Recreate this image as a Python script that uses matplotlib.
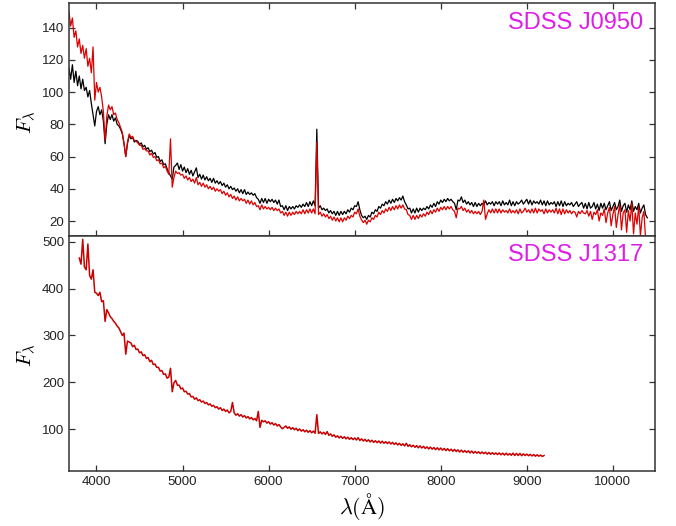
#!/usr/bin/env python3

import numpy as np
import matplotlib
matplotlib.use('Agg')
import matplotlib.pyplot as plt
from matplotlib.ticker import MultipleLocator

BLACK = '#000000'
RED = '#dd0000'
DARK_RED = '#c80000'
MAGENTA = '#dd1ee6'
AXIS = '#333333'

plt.rcParams['font.family'] = ['Liberation Sans', 'DejaVu Sans']
plt.rcParams['mathtext.fontset'] = 'cm'

# SDSS J0950: wavelength grid (Angstrom), 20 A steps from 3680 to 10400
wave_j0950 = np.arange(3680, 10401, 20)

# black spectrum
flux_j0950_black = [
    115, 108, 117, 106, 113, 104, 110, 102, 108, 101,
    103, 97, 101, 93, 86, 79, 88, 91, 86, 89,
    82, 68, 80, 86, 83, 86, 82, 84, 80, 79,
    77, 74, 68, 60, 68, 73, 71, 72, 69, 70,
    69.5, 67.5, 68.5, 66, 67, 64.5, 65.5, 63, 64, 61.5,
    62.5, 59.5, 60, 57, 58, 55, 55.5, 52.5, 50, 48,
    46, 53.5, 54.5, 56, 52, 55, 51, 53.5, 50, 52.5,
    49, 51.5, 48, 50.5, 53, 47, 49, 46, 48.5, 45.5,
    47.5, 45, 46.5, 44, 46.5, 43.5, 45, 43, 44.5, 42,
    43.5, 41, 42.5, 40, 41.5, 39.5, 40.5, 38.5, 40, 37.5,
    39.5, 37, 39.5, 36.5, 38, 36.5, 37.5, 36, 37, 34.5,
    33.5, 31, 34, 31.5, 34, 31, 33.5, 32, 33.5, 31.5,
    33, 30.5, 33, 29, 29.5, 27, 29.5, 26.5, 29, 27.5,
    29, 27.5, 29.5, 28.5, 30, 28.5, 30.5, 29, 31.5, 29,
    32, 29.5, 32.5, 29.5, 77, 28, 29.5, 27, 28, 26.5,
    27.5, 25, 26.5, 24.5, 26, 23.5, 26, 23.5, 26, 24,
    26, 24.5, 27, 25.5, 28, 27, 29.5, 29, 32, 27,
    23.5, 22, 23, 21, 23.5, 22.5, 25.5, 24.5, 27, 26,
    29, 28, 30.5, 29.5, 32, 30.5, 33, 31, 33.5, 31.5,
    34, 32.5, 34.5, 33, 35.5, 32, 30, 27.5, 28, 25,
    27.5, 25, 28, 25.5, 28, 26.5, 28, 27, 29, 27.5,
    30, 28.5, 31, 29, 32, 30.5, 33, 31.5, 33.5, 32,
    34, 32.5, 33.5, 32, 31, 27, 33, 32.5, 35, 31.5,
    33, 30.5, 32, 30, 31.5, 29, 31.5, 29, 31, 29.5,
    31, 30, 32.5, 30, 31.5, 30.5, 32, 29.5, 32, 30.5,
    32, 29.5, 32.5, 30, 31.5, 30, 33, 29.5, 32, 29.5,
    32, 30.5, 31.5, 33, 30.5, 32, 33.5, 30.5, 33, 30,
    32.5, 31, 32, 30.5, 33, 30, 32.5, 29.5, 32.5, 30,
    31.5, 30.5, 32, 29, 32, 29.5, 32.5, 29, 32, 29.5,
    31, 30, 31.5, 29, 30.5, 32, 29, 30.5, 31.5, 28,
    31, 27.5, 31.5, 28, 29, 31.5, 27.5, 30.5, 26.5, 31,
    28, 31, 27, 29.5, 32, 26.5, 29, 31.5, 27, 29,
    33, 26, 29.5, 31, 25.5, 30, 27, 32.5, 26, 29,
    27, 31, 25, 28, 30, 24, 22,
]

# red spectrum
flux_j0950_red = [
    150, 141, 146, 134, 138, 128, 133, 124, 129, 121,
    127, 116, 121, 112, 128, 95, 106, 100, 103, 97,
    88, 70, 85, 92, 89, 91, 86, 87, 83, 81,
    78, 75, 68, 60, 69, 74, 72, 72.5, 70, 69.5,
    68.5, 67, 67, 64.5, 65, 63.5, 63.5, 61, 62, 59.5,
    60, 57.5, 58, 55.5, 56, 53, 54, 51, 49, 71,
    41, 47, 51, 49.5, 50, 48.5, 49, 46.5, 48, 45.5,
    47, 44.5, 46, 43.5, 47, 42.5, 44, 41.5, 43.5, 41,
    42.5, 40, 41.5, 39.5, 41, 38.5, 40, 38.5, 39.5, 37,
    38.5, 36, 37.5, 35, 36.5, 34, 35.5, 33, 35, 32.5,
    34, 32.5, 33.5, 31, 33, 30.5, 32.5, 30, 31.5, 29,
    29.5, 27, 30, 27.5, 29, 27.5, 28.5, 27, 28.5, 26.5,
    28, 26.5, 27.5, 25, 26, 23.5, 25.5, 23, 25.5, 23.5,
    25.5, 24, 26, 24.5, 26, 24.5, 27, 24.5, 27, 25,
    27.5, 25, 27.5, 24.5, 69, 24, 25.5, 23, 24.5, 22.5,
    24, 21.5, 23, 20.5, 22.5, 20, 22, 19.5, 22, 19.5,
    22, 20.5, 23, 21.5, 23.5, 22.5, 25.5, 24.5, 27.5, 23,
    20.7, 19, 20.5, 18, 20.5, 19.5, 22, 21, 23.5, 22.5,
    25.5, 24, 26.5, 25, 27.5, 26, 28.5, 26.5, 29, 27,
    29.5, 27.5, 30, 28, 30, 27.5, 27, 24, 23.5, 21,
    23.5, 21, 23.5, 21.5, 24, 22.5, 24.5, 23, 25.5, 24,
    26.5, 24.5, 27, 25.5, 28, 26, 28.5, 27, 29, 27,
    29, 27.5, 29, 27, 26, 22, 28, 27.5, 29, 26.5,
    28, 25.5, 27, 25, 26.5, 24.5, 26, 24.5, 26, 24,
    26, 33, 21, 24.5, 27, 25, 27.5, 25, 27.5, 25,
    27.5, 25, 27, 25.5, 26.5, 25, 27.5, 25, 26.5, 25,
    27, 24.5, 27.5, 25, 26, 28, 25.5, 27, 25, 27.5,
    25, 28, 25, 27.5, 26, 27, 24.5, 27.5, 25, 27,
    25.5, 27, 25, 28, 24.5, 27.5, 24, 27.5, 24.5, 27,
    25, 26.5, 24.5, 26, 25.5, 22.5, 26, 24.5, 26.5, 25,
    24.5, 26.5, 23, 26, 21, 25.5, 24, 27, 20, 25,
    23.5, 27.5, 19, 25, 28.5, 17, 24, 29, 16, 24,
    30, 14.5, 25, 27, 13, 26.5, 20, 31, 12, 25,
    18, 29, 11, 22, 26, 9, 5,
]

# SDSS J1317: 20 A steps from 3800 to 9200
wave_j1317 = np.arange(3800, 9201, 20)
flux_j1317 = [
    465, 452, 505, 446, 440, 495, 428, 420, 440, 392,
    390, 385, 392, 372, 374, 330, 355, 348, 340, 336,
    330, 326, 320, 316, 308, 300, 305, 260, 288, 286,
    284, 276, 279, 270, 271, 263, 265, 257, 259, 251,
    253, 244, 247, 238, 239, 232, 232, 224, 225, 217,
    218, 209, 211, 230, 180, 199, 204, 194, 194, 186,
    188, 180, 181, 175, 176, 169, 170, 164, 167, 161,
    163, 158, 160, 155, 157, 152, 154, 149, 151, 146,
    148, 143, 146, 140, 143, 138, 141, 135, 138, 157,
    135, 130, 133, 128, 131, 126, 129, 124, 127, 122,
    125, 120, 123, 118, 138, 104, 119, 116, 118, 113,
    116, 111, 114, 109, 112, 107, 110, 105, 101, 104,
    107, 102, 105, 100, 103.5, 99, 102, 97, 100.5, 96,
    99, 94.5, 98, 93.5, 97, 92.5, 96, 91.5, 131, 91,
    94.5, 90, 93.5, 89, 95, 87, 90, 85, 88, 83,
    86, 81.5, 85, 80.5, 84, 79.5, 83, 78.5, 82, 78,
    81.5, 77, 82, 76, 79.5, 75, 78.5, 74, 77.5, 73,
    76.5, 72, 75.5, 71.5, 75, 70.5, 74.5, 70, 73.5, 69.5,
    73, 68.5, 72, 67.5, 71, 66.5, 70, 65.5, 69, 64.5,
    70, 63.5, 67, 62.5, 66, 61.5, 65, 60.5, 64.5, 60,
    63.5, 59, 62.5, 58, 62, 57.5, 61, 56.5, 60.5, 56,
    60, 55.5, 59, 54.5, 58.5, 54, 57.5, 53, 57, 52.5,
    56, 51.5, 55.5, 51, 54.5, 50.5, 54, 49.5, 53.5, 49,
    52.5, 49, 52, 48, 51.5, 48, 51, 47, 50.5, 46.5,
    50, 46.5, 49.5, 46, 49.5, 45.5, 49, 45, 49, 45,
    48, 44.5, 49, 44, 48.5, 44, 48.5, 43.5, 47.5, 44,
    47, 43.5, 46.5, 43, 46, 42.5, 45.5, 42.5, 45, 42,
    44,
]

X_TICKS = [4000, 5000, 6000, 7000, 8000, 9000, 10000]


def style_axis(ax, bottom_labels):
    for spine in ax.spines.values():
        spine.set_color(AXIS)
        spine.set_linewidth(1.1)
    ax.tick_params(direction='in', length=4.5, width=0.9, color=AXIS,
                   labelsize=9.5, labelcolor='#222222', right=True,
                   labelbottom=bottom_labels)
    ax.set_xticks(X_TICKS)
    ax.set_xlim(3680, 10490)


fig = plt.figure(figsize=(6.76, 5.26), dpi=100)
ax_top = fig.add_axes([0.102, 0.5513, 0.867, 0.4430])
ax_bot = fig.add_axes([0.102, 0.1046, 0.867, 0.4467])

ax_top.plot(wave_j0950, flux_j0950_black, color=BLACK, linewidth=0.9)
ax_top.plot(wave_j0950, flux_j0950_red, color=RED, linewidth=0.9)
ax_top.set_ylim(10.7, 155.3)
ax_top.yaxis.set_major_locator(MultipleLocator(20))
style_axis(ax_top, False)
ax_top.tick_params(top=True)
ax_top.text(0.9795, 0.916, 'SDSS J0950', transform=ax_top.transAxes,
            ha='right', va='center', fontsize=17, color=MAGENTA)

ax_bot.plot(wave_j1317, flux_j1317, color=DARK_RED, linewidth=1.1)
ax_bot.set_ylim(11, 512)
ax_bot.yaxis.set_major_locator(MultipleLocator(100))
style_axis(ax_bot, True)
ax_bot.text(0.9795, 0.919, 'SDSS J1317', transform=ax_bot.transAxes,
            ha='right', va='center', fontsize=17, color=MAGENTA)

fig.text(27 / 676, 1 - 122 / 526, r'$F_\lambda$', rotation=90,
         ha='center', va='center', fontsize=15)
fig.text(27 / 676, 1 - 355 / 526, r'$F_\lambda$', rotation=90,
         ha='center', va='center', fontsize=15)
fig.text(362 / 676, 1 - 507 / 526, r'$\lambda(\mathrm{\AA})$',
         ha='center', va='center', fontsize=16)

fig.savefig('out.png', dpi=100)
